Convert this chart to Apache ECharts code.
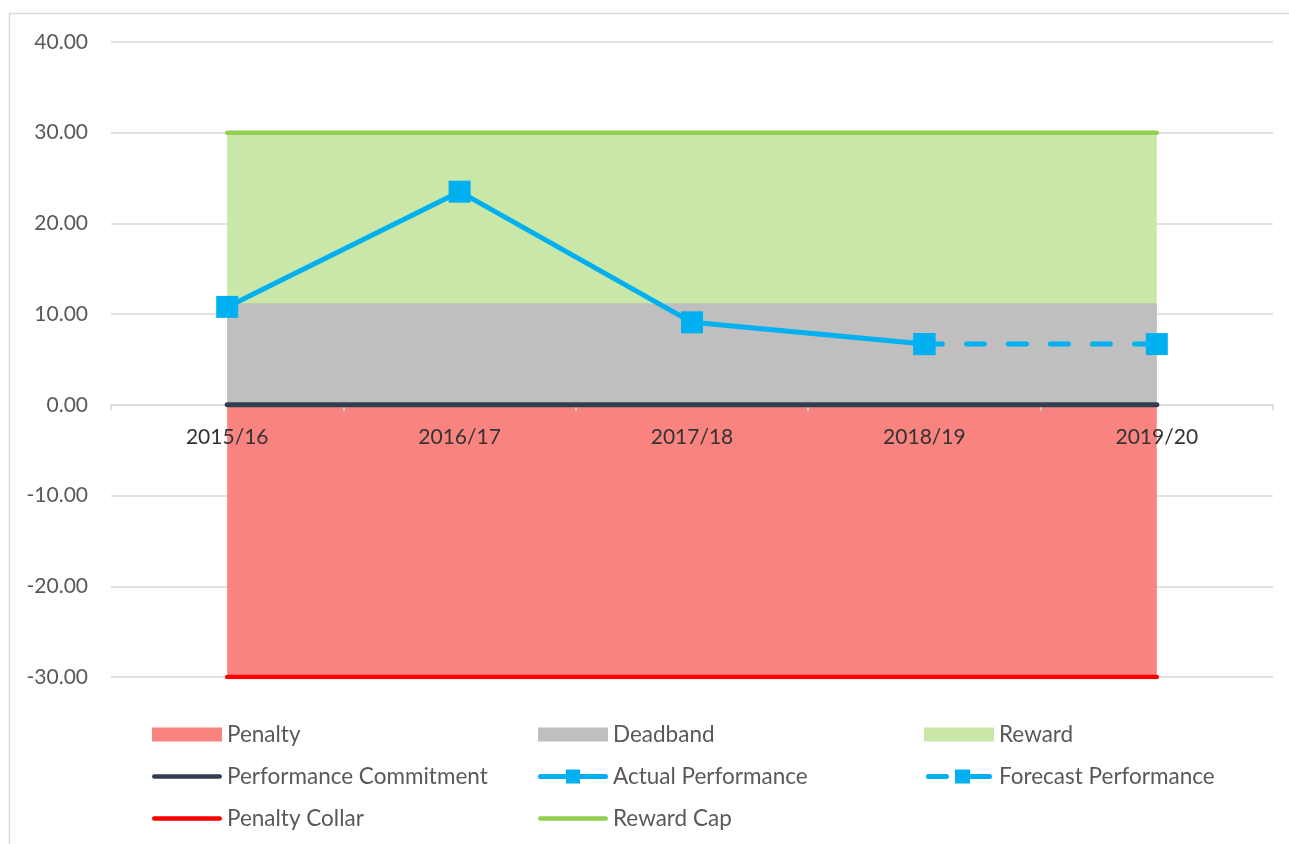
<!DOCTYPE html>
<html>
<head>
<meta charset="utf-8">
<script src="https://cdn.jsdelivr.net/npm/echarts@6/dist/echarts.min.js"></script>
<style>
html,body{margin:0;padding:0;background:#fff;}
#chart{width:1289px;height:844px;}
</style>
</head>
<body>
<div id="chart"></div>
<script>
const categories = ['2015/16', '2016/17', '2017/18', '2018/19', '2019/20'];
const penalty = [-30, -30, -30, -30, -30];
const deadband = [11.2, 11.2, 11.2, 11.2, 11.2];
const reward = [30, 30, 30, 30, 30];
const performanceCommitment = [0, 0, 0, 0, 0];
const actualPerformance = [10.8, 23.5, 9.1, 6.7, null];
const forecastPerformance = [null, null, null, 6.7, 6.7];
const penaltyCollar = [-30, -30, -30, -30, -30];
const rewardCap = [30, 30, 30, 30, 30];
const yTicks = { min: -30, max: 40, interval: 10 };

const FONT = 'Lato';
const GRID = { left: 111, right: 16, top: 42, bottom: 167 };
const chart = echarts.init(document.getElementById('chart'), null, { renderer: 'canvas' });

// legend icons (shape only)
const ICON_LINE = 'path://M2.25,0 L67.75,0 A2.25,2.25 0 0 1 67.75,4.5 L2.25,4.5 A2.25,2.25 0 0 1 2.25,0 Z';
const ICON_MARKER_LINE = 'path://M2.5,4.5 L28,4.5 L28,0 L42,0 L42,4.5 L67.5,4.5 A2.5,2.5 0 0 1 67.5,9.5 L42,9.5 L42,14 L28,14 L28,9.5 L2.5,9.5 A2.5,2.5 0 0 1 2.5,4.5 Z';
const ICON_MARKER_DASH = 'path://M2.5,4.5 L20.5,4.5 A2.5,2.5 0 0 1 20.5,9.5 L2.5,9.5 A2.5,2.5 0 0 1 2.5,4.5 Z M29,0 L44,0 L44,4.5 L63.5,4.5 A2.5,2.5 0 0 1 63.5,9.5 L44,9.5 L44,14 L29,14 Z';

function areaSeries(name, data, color, z) {
  return {
    name, type: 'line', data, z,
    symbol: 'none', showSymbol: false,
    lineStyle: { width: 0, color },
    itemStyle: { color },
    areaStyle: { color, opacity: 1 },
    emphasis: { disabled: true }, silent: true
  };
}
function lineSeries(name, data, color, z, extra) {
  return Object.assign({
    name, type: 'line', data, z,
    symbol: 'none',
    lineStyle: { width: 4.5, color, cap: 'round' },
    itemStyle: { color },
    emphasis: { disabled: true }, silent: true
  }, extra || {});
}

const legendCommon = {
  orient: 'vertical',
  top: 718,
  itemWidth: 70,
  itemHeight: 14,
  itemGap: 19,
  symbolKeepAspect: true,
  textStyle: { fontFamily: FONT, fontSize: 22.5, color: '#595959', lineHeight: 22 },
  selectedMode: false
};

// offset to place the category axis on value 0
const plotH = 844 - GRID.top - GRID.bottom;
const zeroOffset = -plotH * (0 - yTicks.min) / (yTicks.max - yTicks.min);

chart.setOption({
  animation: false,
  graphic: [{
    type: 'rect', shape: { x: 9.5, y: 13.5, width: 1300, height: 900 },
    style: { fill: 'none', stroke: '#D9D9D9', lineWidth: 1.5 }, silent: true, z: -1
  }],
  grid: Object.assign({ containLabel: false }, GRID),
  legend: [
    Object.assign({}, legendCommon, { left: 147, data: [
      { name: 'Penalty', icon: 'rect' },
      { name: 'Performance Commitment', icon: ICON_LINE },
      { name: 'Penalty Collar', icon: ICON_LINE }] }),
    Object.assign({}, legendCommon, { left: 533, data: [
      { name: 'Deadband', icon: 'rect' },
      { name: 'Actual Performance', icon: ICON_MARKER_LINE },
      { name: 'Reward Cap', icon: ICON_LINE }] }),
    Object.assign({}, legendCommon, { left: 919, data: [
      { name: 'Reward', icon: 'rect' },
      { name: 'Forecast Performance', icon: ICON_MARKER_DASH }] })
  ],
  xAxis: {
    type: 'category',
    data: categories,
    boundaryGap: true,
    position: 'bottom',
    offset: zeroOffset,
    z: 5,
    axisLine: { show: true, onZero: false, lineStyle: { color: '#D9D9D9', width: 1.5 } },
    axisTick: { show: true, length: 6, lineStyle: { color: '#D9D9D9', width: 1.5 } },
    axisLabel: { fontFamily: FONT, fontSize: 21, color: '#333333', margin: 22 },
    splitLine: { show: false }
  },
  yAxis: {
    type: 'value',
    min: yTicks.min, max: yTicks.max, interval: yTicks.interval,
    axisLine: { show: false },
    axisTick: { show: false },
    axisLabel: { fontFamily: FONT, fontSize: 21, color: '#595959', margin: 23,
      formatter: v => v.toFixed(2) },
    splitLine: { lineStyle: { color: '#D9D9D9', width: 1.5 } }
  },
  series: [
    areaSeries('Penalty', penalty, '#F8837F', 2),
    areaSeries('Reward', reward, '#C9E7A9', 2),
    areaSeries('Deadband', deadband, '#BFBFBF', 3),
    lineSeries('Performance Commitment', performanceCommitment, '#333F50', 6,
      { lineStyle: { width: 5, color: '#333F50', cap: 'round' } }),
    lineSeries('Penalty Collar', penaltyCollar, '#FF0000', 6),
    lineSeries('Reward Cap', rewardCap, '#92D050', 6),
    lineSeries('Actual Performance', actualPerformance, '#00B0F0', 8,
      { symbol: 'rect', symbolSize: 22, showSymbol: true, connectNulls: false,
        lineStyle: { width: 5, color: '#00B0F0', cap: 'round' } }),
    lineSeries('Forecast Performance', forecastPerformance, '#00B0F0', 8,
      { symbol: 'rect', symbolSize: 22, showSymbol: true,
        lineStyle: { width: 5, color: '#00B0F0', cap: 'round', type: [18, 24] } })
  ]
});
</script>
</body>
</html>
